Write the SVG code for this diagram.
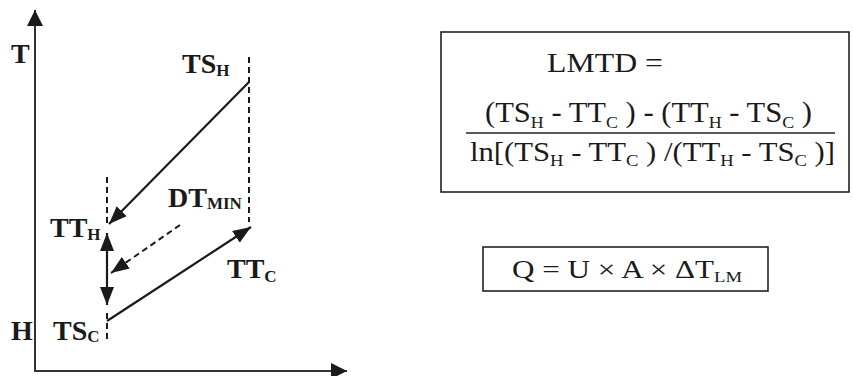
<svg xmlns="http://www.w3.org/2000/svg" width="853" height="376" viewBox="0 0 853 376">
<defs>
<marker id="arr" markerUnits="userSpaceOnUse" viewBox="0 0 18 14" refX="18" refY="7" markerWidth="18" markerHeight="14" orient="auto-start-reverse"><path d="M0,0 L18,7 L0,14 z" fill="#1a1a1a"/></marker>
<marker id="axarr" markerUnits="userSpaceOnUse" viewBox="0 0 16 16" refX="16" refY="8" markerWidth="16" markerHeight="16" orient="auto"><path d="M0,0 L16,8 L0,16 z" fill="#1a1a1a"/></marker>
</defs>
<style>
.lbl{font-family:"Liberation Serif","Times New Roman",serif;font-weight:bold;font-size:28px;fill:#1a1a1a}
.sub{font-size:17px}
.eq{font-family:"Liberation Serif","Times New Roman",serif;fill:#1a1a1a}
.ax{stroke:#333;stroke-width:2;fill:none}
.ln{stroke:#1a1a1a;stroke-width:2.2;fill:none}
.dash{stroke:#1a1a1a;stroke-width:2;fill:none;stroke-dasharray:6 4}
.box{fill:none;stroke:#222;stroke-width:1.6}
</style>
<rect width="853" height="376" fill="#fff"/>
<g id="axes">
<line class="ax" x1="35" y1="371" x2="35" y2="10" marker-end="url(#axarr)"/>
<line class="ax" x1="34" y1="371" x2="347" y2="371" marker-end="url(#axarr)"/>
</g>
<g id="connectors">
<line class="dash" x1="249" y1="57" x2="249" y2="222"/>
<line class="dash" x1="107" y1="177" x2="107" y2="226"/>
<line class="dash" x1="107" y1="313" x2="107" y2="342"/>
<line class="ln" x1="249" y1="82" x2="109" y2="224" marker-end="url(#arr)"/>
<line class="ln" x1="107" y1="233" x2="107" y2="305" stroke-width="2.5" marker-start="url(#arr)" marker-end="url(#arr)"/>
<line class="dash" x1="180" y1="225" x2="111" y2="273" marker-end="url(#arr)"/>
<line class="ln" x1="107" y1="321" x2="251" y2="227" marker-end="url(#arr)"/>
</g>
<g id="label-T"><text class="lbl" x="11" y="63" font-size="31">T</text></g>
<g id="label-H"><text class="lbl" x="11" y="340">H</text></g>
<g id="label-TSH"><text class="lbl" x="182" y="73">TS<tspan class="sub" dy="3">H</tspan></text></g>
<g id="label-DTMIN"><text class="lbl" x="168" y="207">DT<tspan class="sub" dy="2" font-size="18">MIN</tspan></text></g>
<g id="label-TTH"><text class="lbl" x="50" y="237">TT<tspan class="sub" dy="3">H</tspan></text></g>
<g id="label-TTC"><text class="lbl" x="227" y="278">TT<tspan class="sub" dy="4">C</tspan></text></g>
<g id="label-TSC"><text class="lbl" x="53" y="340">TS<tspan class="sub" dy="2">C</tspan></text></g>
<g id="lmtd-box">
<rect class="box" x="441" y="32" width="408" height="160"/>
<text class="eq" x="547" y="72" font-size="28" textLength="116" lengthAdjust="spacingAndGlyphs">LMTD =</text>
<text class="eq" x="485" y="122" font-size="29" textLength="327" lengthAdjust="spacingAndGlyphs">(TS<tspan font-size="17" dy="6">H</tspan><tspan dy="-6"> - TT</tspan><tspan font-size="17" dy="6">C</tspan><tspan dy="-6"> ) - (TT</tspan><tspan font-size="17" dy="6">H</tspan><tspan dy="-6"> - TS</tspan><tspan font-size="17" dy="6">C</tspan><tspan dy="-6"> )</tspan></text>
<line x1="466" y1="133" x2="835" y2="133" stroke="#222" stroke-width="1.6"/>
<text class="eq" x="470" y="161" font-size="28" textLength="365" lengthAdjust="spacingAndGlyphs">ln[(TS<tspan font-size="17" dy="5">H</tspan><tspan dy="-5"> - TT</tspan><tspan font-size="17" dy="5">C</tspan><tspan dy="-5"> ) /(TT</tspan><tspan font-size="17" dy="5">H</tspan><tspan dy="-5"> - TS</tspan><tspan font-size="17" dy="5">C</tspan><tspan dy="-5"> )]</tspan></text>
</g>
<g id="q-box">
<rect class="box" x="483" y="247" width="285" height="44"/>
<text class="eq" x="512" y="278" font-size="25" textLength="230" lengthAdjust="spacingAndGlyphs">Q = U × A × ΔT<tspan font-size="15" dy="4">LM</tspan></text>
</g>
</svg>
